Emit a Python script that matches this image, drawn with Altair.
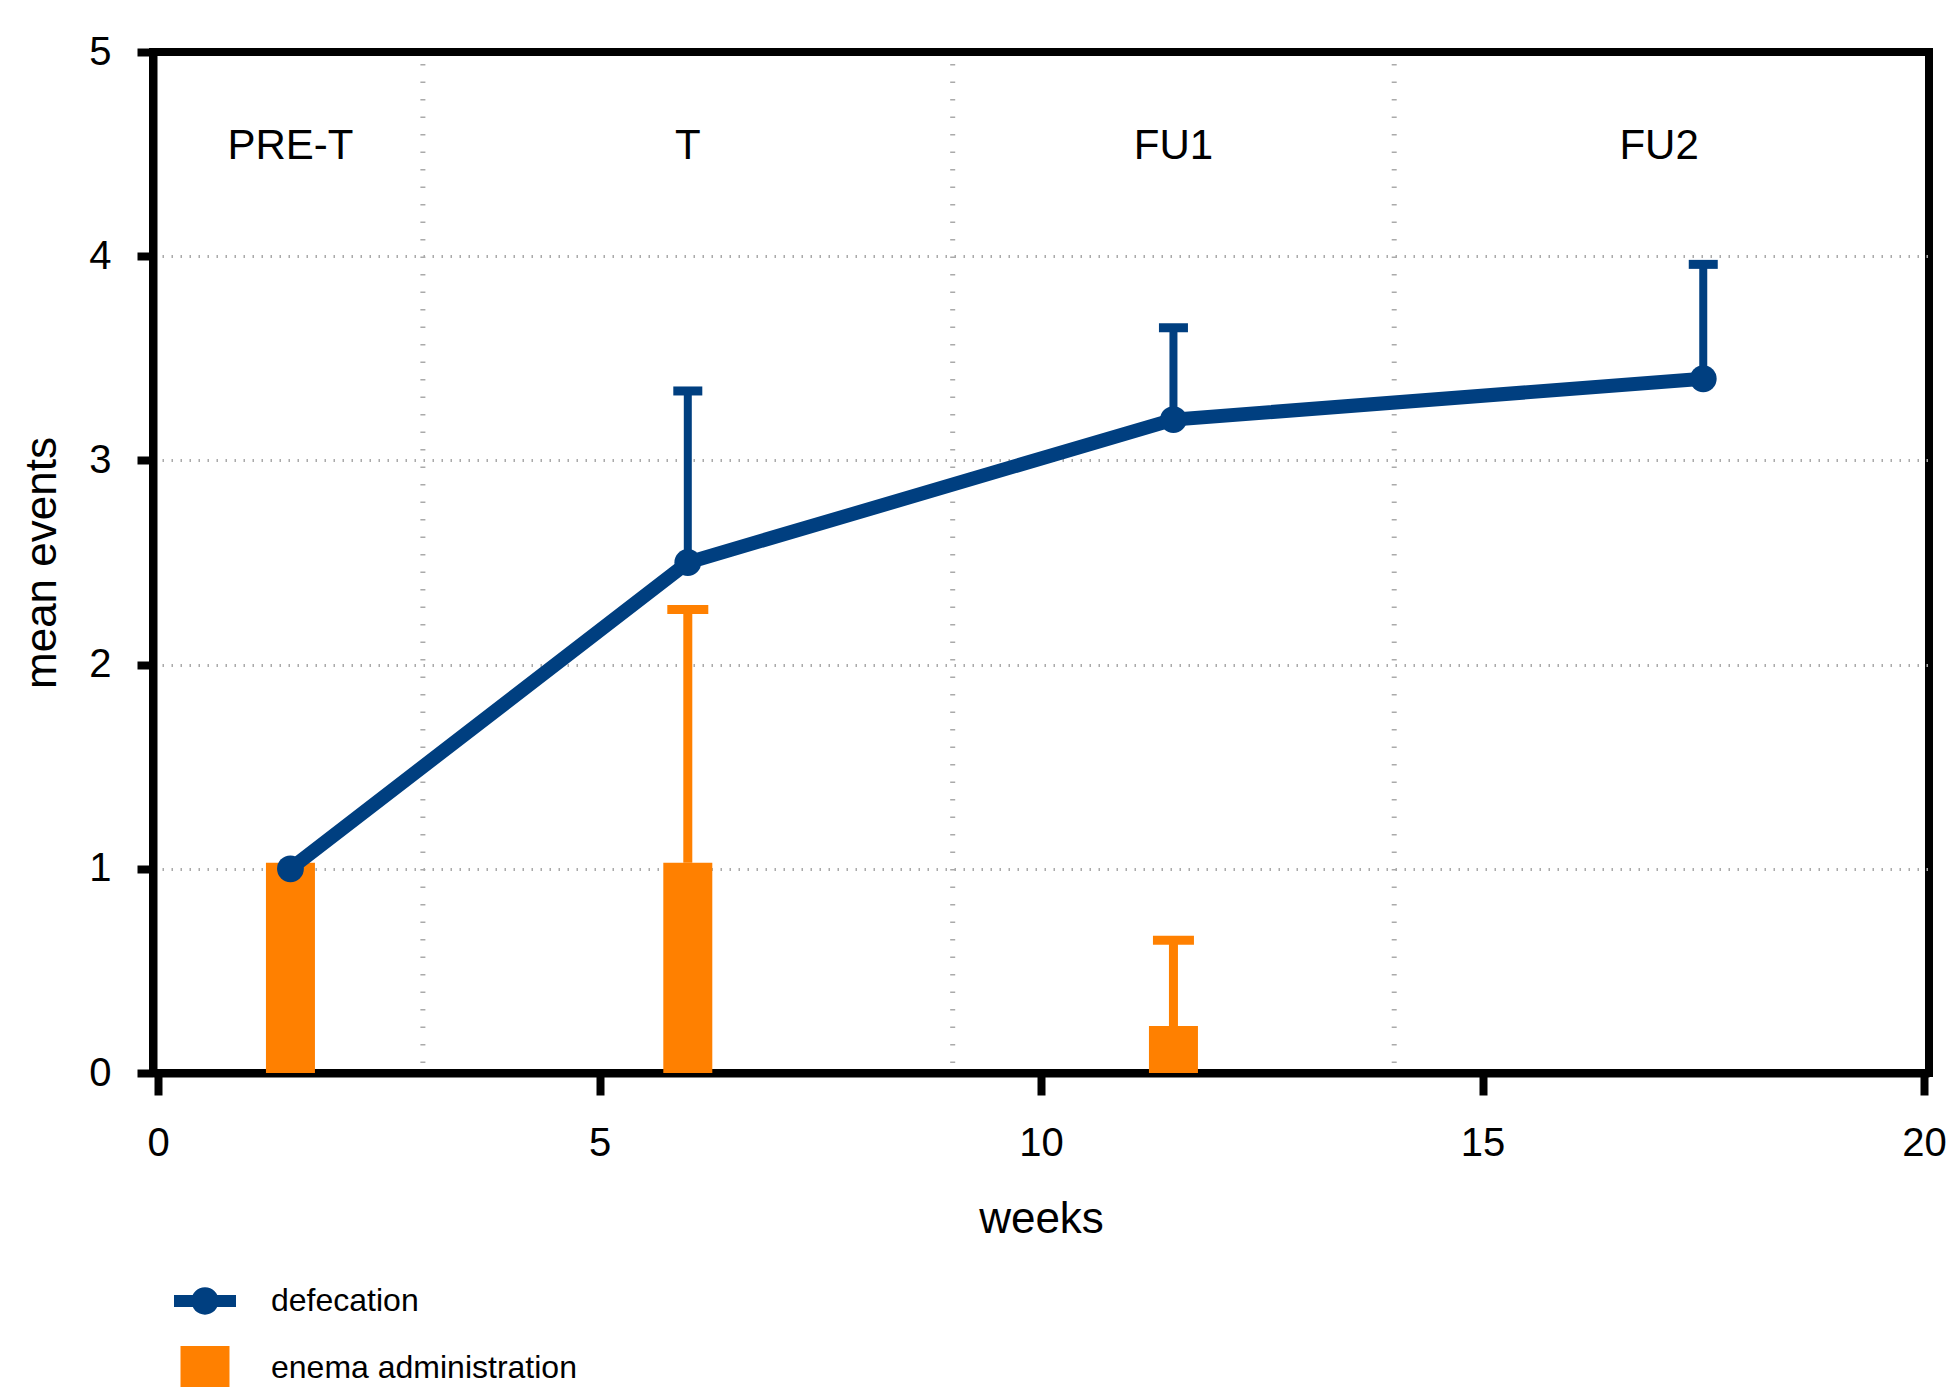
import altair as alt
import pandas as pd
import numpy as np

# ---- data ----
def_weeks = [1.5, 6.0, 11.5, 17.5]
def_mean = [1.0, 2.5, 3.2, 3.4]
def_upper = [np.nan, 3.34, 3.65, 3.96]

ene_weeks = [1.5, 6.0, 11.5]
ene_mean = [1.03, 1.03, 0.23]
ene_upper = [np.nan, 2.27, 0.65]

phase_bounds = [0, 3, 9, 14, 20]
phase_labels = ["PRE-T", "T", "FU1", "FU2"]
phase_label_level = 4.54

x_ticks = [0, 5, 10, 15, 20]
y_ticks = [0, 1, 2, 3, 4, 5]

series_names = ["defecation", "enema administration"]

NAVY = "#003F80"
ORANGE = "#FF8000"
GRID = "#AAAAAA"
FONT = "Liberation Sans"

df_def = pd.DataFrame({"week": def_weeks, "mean": def_mean, "upper": def_upper})
df_ene = pd.DataFrame({"week": ene_weeks, "mean": ene_mean, "upper": ene_upper})
df_phase = pd.DataFrame({
    "label": phase_labels,
    "mid": [(a + b) / 2 for a, b in zip(phase_bounds[:-1], phase_bounds[1:])],
    "level": [phase_label_level] * len(phase_labels),
})
df_bounds = pd.DataFrame({"b": phase_bounds[1:-1]})
df_leg = pd.DataFrame({"series": series_names})

xs = alt.Scale(domain=[0, 20], nice=False, zero=False)
ys = alt.Scale(domain=[0, 5], nice=False)

x_axis = alt.Axis(
    values=x_ticks, title="weeks", grid=False,
    domainColor="black", domainWidth=8, tickColor="black", tickWidth=8, tickSize=22,
    labelFontSize=40, labelPadding=28, labelFont=FONT, labelColor="black",
    titleFontSize=44, titleFont=FONT, titleFontWeight="normal", titleColor="black",
    titleBaseline="alphabetic", titleY=159,
)
y_axis = alt.Axis(
    values=y_ticks, title="mean events", grid=True,
    gridColor=GRID, gridDash=[1.5, 7.5], gridWidth=3,
    gridOpacity={"condition": {"test": "datum.value == 0 || datum.value == 5", "value": 0}, "value": 1},
    domainColor="black", domainWidth=8, tickColor="black", tickWidth=8, tickSize=16,
    labelFontSize=40, labelPadding=26, labelFont=FONT, labelColor="black",
    titleFontSize=44, titleFont=FONT, titleFontWeight="normal", titleColor="black",
    titleBaseline="alphabetic", titleX=-98,
)

base_x = alt.X("week:Q", scale=xs, axis=x_axis)

vrules = alt.Chart(df_bounds).mark_rule(
    color=GRID, strokeWidth=5, strokeDash=[1.5, 16], strokeDashOffset=-12
).encode(x=alt.X("b:Q", scale=xs, axis=x_axis))

bars = alt.Chart(df_ene).mark_bar(size=49, color=ORANGE, opacity=1).encode(
    x=base_x, y=alt.Y("mean:Q", scale=ys, axis=y_axis)
)
ene_err = alt.Chart(df_ene).transform_filter("isValid(datum.upper)").mark_rule(
    color=ORANGE, strokeWidth=9, opacity=1
).encode(x=base_x, y=alt.Y("mean:Q", scale=ys, axis=y_axis), y2="upper:Q")
ene_cap = alt.Chart(df_ene).transform_filter("isValid(datum.upper)").mark_tick(
    color=ORANGE, orient="horizontal", size=41, thickness=9, opacity=1
).encode(x=base_x, y=alt.Y("upper:Q", scale=ys, axis=y_axis))

def_err = alt.Chart(df_def).transform_filter("isValid(datum.upper)").mark_rule(
    color=NAVY, strokeWidth=8, opacity=1
).encode(x=base_x, y=alt.Y("mean:Q", scale=ys, axis=y_axis), y2="upper:Q")
def_cap = alt.Chart(df_def).transform_filter("isValid(datum.upper)").mark_tick(
    color=NAVY, orient="horizontal", size=29, thickness=9, opacity=1
).encode(x=base_x, y=alt.Y("upper:Q", scale=ys, axis=y_axis))

def_line = alt.Chart(df_def).mark_line(color=NAVY, strokeWidth=14).encode(
    x=base_x, y=alt.Y("mean:Q", scale=ys, axis=y_axis)
)
def_pts = alt.Chart(df_def).mark_point(
    color=NAVY, filled=True, opacity=1, size=720, shape="circle"
).encode(x=base_x, y=alt.Y("mean:Q", scale=ys, axis=y_axis))

labels = alt.Chart(df_phase).mark_text(
    font=FONT, fontSize=42, color="black", align="center", baseline="middle"
).encode(
    x=alt.X("mid:Q", scale=xs, axis=x_axis),
    y=alt.Y("level:Q", scale=ys, axis=y_axis),
    text="label:N",
)

# legend-only layer (no marks drawn, legend built from explicit scale domains)
def_symbol = ("M-1,-0.19H1V0.19H-1Z "
              "M0,-0.44A0.44,0.44 0 1 1 0,0.44A0.44,0.44 0 1 1 0,-0.44Z")
ene_symbol = "M-0.79,-0.71H0.79V0.71H-0.79Z"
leg = alt.Legend(
    title=None, orient="none", legendX=21, legendY=1218, direction="vertical",
    symbolSize=3844, symbolStrokeWidth=0, symbolOpacity=1,
    labelFont=FONT, labelFontSize=32, labelColor="black", labelOffset=35,
    rowPadding=20, padding=0, labelLimit=600,
)
legend_layer = alt.Chart(df_leg).transform_filter("false").mark_point(
    filled=True, opacity=1
).encode(
    color=alt.Color("series:N", scale=alt.Scale(domain=series_names, range=[NAVY, ORANGE]), legend=leg),
    shape=alt.Shape("series:N", scale=alt.Scale(domain=series_names, range=[def_symbol, ene_symbol]), legend=leg),
)

chart = alt.layer(
    vrules, bars, ene_err, ene_cap, def_err, def_cap, def_line, def_pts, labels, legend_layer
).properties(
    width=1776, height=1021,
    background="white",
    autosize=alt.AutoSizeParams(type="none"),
    padding={"left": 145, "top": 44, "right": 17, "bottom": 314},
).configure_view(
    stroke="black", strokeWidth=8
)

chart.save("out.html", embed_options={"renderer": "svg", "actions": False})
